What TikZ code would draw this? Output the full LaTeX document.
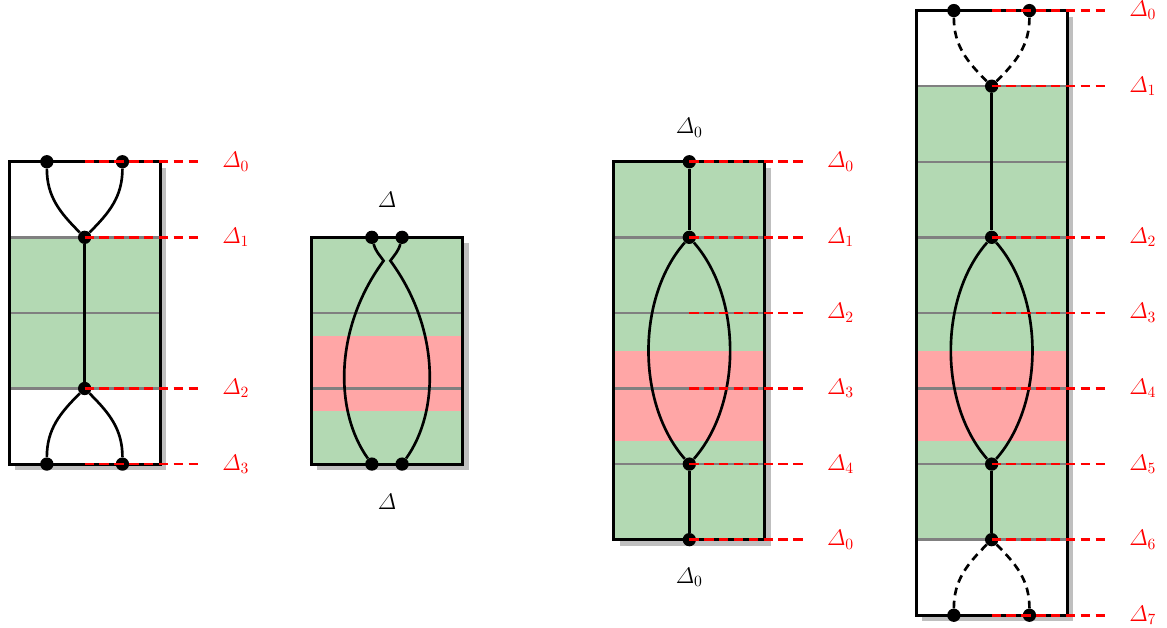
\documentclass[tikz,border=0pt]{standalone}
\usepackage{amsmath}
\usetikzlibrary{calc}
\definecolor{bandGreen}{RGB}{179,217,179}
\definecolor{bandRed}{RGB}{255,166,166}

\begin{document}
\begin{tikzpicture}[
        x=1.7cm,
        y=1.7cm,
        shade/.style={fill=black!25, draw=none},
        frame/.style={line width=2pt},
        rule/.style={draw=black!50, line width=1.5pt},
        wire/.style={line width=1.7pt},
        ghost/.style={wire, dash pattern=on 5pt off 3.5pt},
        dot/.style={circle, fill=black, inner sep=0pt, minimum size=8.5pt},
        level/.style={draw=red, line width=1.7pt, dash pattern=on 6pt off 3.5pt},
        lvl/.style={text=red, font=\Large, inner sep=1pt},
        tag/.style={text=black, font=\Large}
    ]
        \useasboundingbox (-0.12,-6.16) rectangle (15.32,2.14);

        % panel 1
        \fill[shade] (0.08,-4.08) rectangle (2.08,-0.08);
        \fill[white] (0,-4) rectangle (2,0);
        \fill[bandGreen] (0,-1) rectangle (2,-3);
        \foreach \y in {-1,-2,-3} {
            \draw[rule] (0,\y) -- (2,\y);
        }
        \draw[frame] (0,-4) rectangle (2,0);

        \node[dot] (a0l) at (0.5,0) {};
        \node[dot] (a0r) at (1.5,0) {};
        \node[dot] (a1) at (1,-1) {};
        \node[dot] (a2) at (1,-3) {};
        \node[dot] (a3l) at (0.5,-4) {};
        \node[dot] (a3r) at (1.5,-4) {};
        \draw[wire] (a0l) to[out=-90, in=135] (a1);
        \draw[wire] (a0r) to[out=-90, in=45] (a1);
        \draw[wire] (a1) -- (a2);
        \draw[wire] (a2) to[out=-135, in=90] (a3l);
        \draw[wire] (a2) to[out=-45, in=90] (a3r);

        \foreach \y/\k in {0/0,-1/1,-3/2,-4/3} {
            \coordinate (p1s\k) at (1,\y);
            \coordinate (p1e\k) at (2.5,\y);
            \node[lvl] (p1l\k) at (3,\y) {$\varDelta_{\k}$};
            \draw[level] (p1s\k) -- (p1e\k);
        }

        % panel 2
        \fill[shade] (4.08,-4.08) rectangle (6.08,-1.08);
        \fill[bandGreen] (4,-4) rectangle (6,-1);
        \fill[bandRed] (4,-2.3) rectangle (6,-3.3);
        \foreach \y in {-2,-3} {
            \draw[rule] (4,\y) -- (6,\y);
        }
        \draw[frame] (4,-4) rectangle (6,-1);

        \node[dot] (b0l) at (4.8,-1) {};
        \node[dot] (b0r) at (5.2,-1) {};
        \node[dot] (b1l) at (4.8,-4) {};
        \node[dot] (b1r) at (5.2,-4) {};
        \coordinate (bpl) at (4.955,-1.31);
        \coordinate (bpr) at (5.045,-1.31);
        \draw[wire] (b0l) to[out=-75, in=125] (bpl) .. controls (4.3,-2.2) and (4.3,-3.3) .. (b1l);
        \draw[wire] (b0r) to[out=-105, in=55] (bpr) .. controls (5.7,-2.2) and (5.7,-3.3) .. (b1r);

        \node[tag] (b0t) at (5,-0.5) {$\varDelta$};
        \node[tag] (b1t) at (5,-4.5) {$\varDelta$};

        % panel 3
        \fill[shade] (8.08,-5.08) rectangle (10.08,-0.08);
        \fill[bandGreen] (8,-5) rectangle (10,0);
        \fill[bandRed] (8,-2.5) rectangle (10,-3.7);
        \foreach \y in {-1,-2,-3,-4} {
            \draw[rule] (8,\y) -- (10,\y);
        }
        \draw[frame] (8,-5) rectangle (10,0);

        \node[dot] (c0) at (9,0) {};
        \node[dot] (c1) at (9,-1) {};
        \node[dot] (c4) at (9,-4) {};
        \node[dot] (c5) at (9,-5) {};
        \draw[wire] (c0) -- (c1);
        \draw[wire] (c1) .. controls (8.3,-1.8) and (8.3,-3.2) .. (c4);
        \draw[wire] (c1) .. controls (9.7,-1.8) and (9.7,-3.2) .. (c4);
        \draw[wire] (c4) -- (c5);

        \node[tag] (c0t) at (9,0.45) {$\varDelta_0$};
        \node[tag] (c5t) at (9,-5.5) {$\varDelta_0$};

        \foreach \y/\k/\n in {0/0/0,-1/1/1,-2/2/2,-3/3/3,-4/4/4,-5/0/5} {
            \coordinate (p3s\n) at (9,\y);
            \coordinate (p3e\n) at (10.5,\y);
            \node[lvl] (p3l\n) at (11,\y) {$\varDelta_{\k}$};
            \draw[level] (p3s\n) -- (p3e\n);
        }

        % panel 4
        \fill[shade] (12.08,-6.08) rectangle (14.08,1.92);
        \fill[white] (12,-6) rectangle (14,2);
        \fill[bandGreen] (12,-5) rectangle (14,1);
        \fill[bandRed] (12,-2.5) rectangle (14,-3.7);
        \foreach \y in {1,0,...,-5} {
            \draw[rule] (12,\y) -- (14,\y);
        }
        \draw[frame] (12,-6) rectangle (14,2);

        \node[dot] (d0l) at (12.5,2) {};
        \node[dot] (d0r) at (13.5,2) {};
        \node[dot] (d1) at (13,1) {};
        \node[dot] (d2) at (13,-1) {};
        \node[dot] (d5) at (13,-4) {};
        \node[dot] (d6) at (13,-5) {};
        \node[dot] (d7l) at (12.5,-6) {};
        \node[dot] (d7r) at (13.5,-6) {};
        \draw[ghost] (d0l) to[out=-90, in=135] (d1);
        \draw[ghost] (d0r) to[out=-90, in=45] (d1);
        \draw[wire] (d1) -- (d2);
        \draw[wire] (d2) .. controls (12.3,-1.8) and (12.3,-3.2) .. (d5);
        \draw[wire] (d2) .. controls (13.7,-1.8) and (13.7,-3.2) .. (d5);
        \draw[wire] (d5) -- (d6);
        \draw[ghost] (d6) to[out=-135, in=90] (d7l);
        \draw[ghost] (d6) to[out=-45, in=90] (d7r);

        \foreach \y/\k in {2/0,1/1,-1/2,-2/3,-3/4,-4/5,-5/6,-6/7} {
            \coordinate (p4s\k) at (13,\y);
            \coordinate (p4e\k) at (14.5,\y);
            \node[lvl] (p4l\k) at (15,\y) {$\varDelta_{\k}$};
            \draw[level] (p4s\k) -- (p4e\k);
        }
    \end{tikzpicture}
\end{document}
